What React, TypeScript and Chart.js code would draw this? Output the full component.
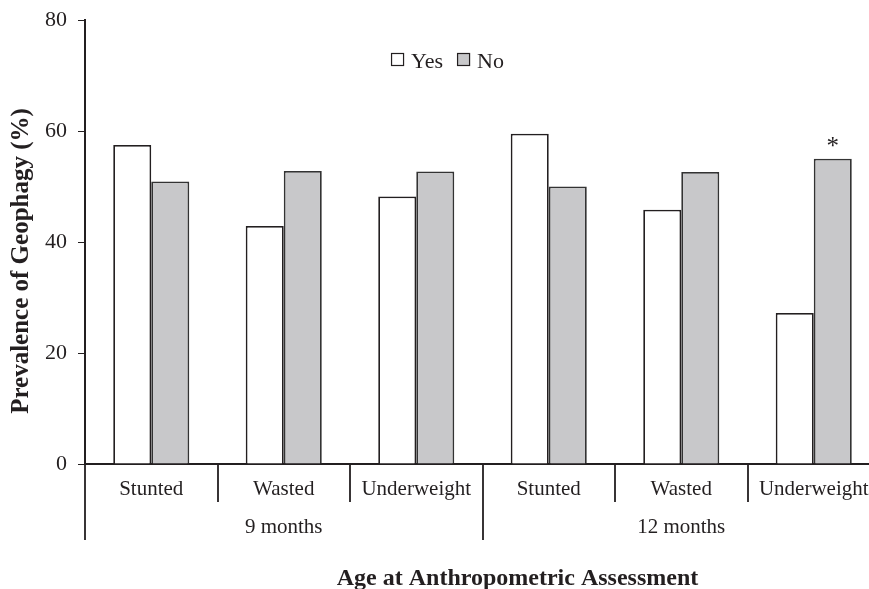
import React, { useEffect, useRef } from 'react';
import { Chart, registerables } from 'chart.js';

Chart.register(...registerables);

const categories = ['Stunted', 'Wasted', 'Underweight', 'Stunted', 'Wasted', 'Underweight'];
const groups = ['9 months', '12 months'];
const groupSize = 3;
const seriesLabels = ['Yes', 'No'];
const yesValues = [57.5, 42.9, 48.2, 59.5, 45.8, 27.2];
const noValues = [50.9, 52.8, 52.7, 50.0, 52.6, 55.0];
const significantNo = [false, false, false, false, false, true];
const yMin = 0;
const yMax = 80;
const yStep = 20;
const yTitle = 'Prevalence of Geophagy (%)';
const xTitle = 'Age at Anthropometric Assessment';

const FONT = '"Liberation Serif", "Times New Roman", serif';
const INK = '#231f20';
const FILL_YES = '#ffffff';
const FILL_NO = '#c8c8ca';

const decorPlugin = {
  id: 'decor',
  afterDraw(chart: any) {
    const { ctx, chartArea: ca } = chart;
    const x = chart.scales.x;
    const n = categories.length;
    const step = x.getPixelForValue(1) - x.getPixelForValue(0);
    const first = x.getPixelForValue(0);
    const bound = (k: number) => first + (k - 0.5) * step;

    ctx.save();
    // separators
    ctx.strokeStyle = INK;
    ctx.lineWidth = 1.8;
    for (let k = 0; k <= n; k++) {
      const px = Math.round(bound(k));
      const len = k % groupSize === 0 ? 76 : 38;
      ctx.beginPath();
      ctx.moveTo(px, ca.bottom);
      ctx.lineTo(px, ca.bottom + len);
      ctx.stroke();
    }
    // group labels
    ctx.fillStyle = INK;
    ctx.font = `21px ${FONT}`;
    ctx.textAlign = 'center';
    ctx.textBaseline = 'alphabetic';
    groups.forEach((g, gi) => {
      const cx = (bound(gi * groupSize) + bound((gi + 1) * groupSize)) / 2;
      ctx.fillText(g, cx, ca.bottom + 69);
    });

    const center = (ca.left + ca.right) / 2;
    // x title
    ctx.font = `bold 24px ${FONT}`;
    ctx.fillText(xTitle, center + 35, ca.bottom + 121);

    // y title
    ctx.save();
    ctx.translate(28, (ca.top + ca.bottom) / 2 + 19);
    ctx.rotate(-Math.PI / 2);
    ctx.textAlign = 'center';
    ctx.textBaseline = 'alphabetic';
    ctx.font = `bold 25px ${FONT}`;
    ctx.fillText(yTitle, 0, 0);
    ctx.restore();

    // legend
    ctx.font = `22px ${FONT}`;
    ctx.textAlign = 'left';
    const box = 13;
    const gapText = 7;
    const gapItem = 14;
    const widths = seriesLabels.map((l) => ctx.measureText(l).width);
    const total = widths.reduce((s, w) => s + box + gapText + w, 0) + gapItem * (seriesLabels.length - 1);
    let lx = center - 35 - total / 2;
    const boxTop = ca.top + 33;
    seriesLabels.forEach((l, i) => {
      const ds = chart.data.datasets[i];
      ctx.fillStyle = ds.backgroundColor;
      ctx.fillRect(lx, boxTop, box, box);
      ctx.strokeStyle = INK;
      ctx.lineWidth = 1.2;
      ctx.strokeRect(lx + 0.5, boxTop + 0.5, box - 1, box - 1);
      ctx.fillStyle = INK;
      ctx.fillText(l, lx + box + gapText, boxTop + 15);
      lx += box + gapText + widths[i] + gapItem;
    });

    // significance stars
    const meta = chart.getDatasetMeta(1);
    ctx.font = `25px ${FONT}`;
    ctx.textAlign = 'center';
    ctx.textBaseline = 'alphabetic';
    significantNo.forEach((s, i) => {
      if (!s) return;
      const el = meta.data[i];
      ctx.fillText('*', el.x, el.y - 5);
    });
    ctx.restore();
  },
};

export default function App() {
  const canvasRef = useRef<HTMLCanvasElement | null>(null);

  useEffect(() => {
    if (!canvasRef.current) return;
    const chart = new Chart(canvasRef.current, {
      type: 'bar',
      data: {
        labels: categories,
        datasets: [
          {
            label: seriesLabels[0],
            data: yesValues,
            backgroundColor: FILL_YES,
            borderColor: INK,
            borderWidth: 1.8,
            categoryPercentage: 0.574,
            barPercentage: 1,
          },
          {
            label: seriesLabels[1],
            data: noValues,
            backgroundColor: FILL_NO,
            borderColor: '#333333',
            borderWidth: 1.8,
            categoryPercentage: 0.574,
            barPercentage: 1,
          },
        ],
      },
      options: {
        animation: false,
        responsive: true,
        maintainAspectRatio: false,
        layout: { padding: { top: 20, right: 20, bottom: 0, left: 0 } },
        plugins: {
          legend: { display: false },
          tooltip: { enabled: false },
          title: { display: false },
        },
        scales: {
          x: {
            type: 'category',
            grid: { display: false, drawTicks: false, drawOnChartArea: false },
            border: { display: true, color: INK, width: 2 },
            ticks: {
              color: INK,
              font: { family: FONT, size: 21 },
              padding: 13,
              maxRotation: 0,
              autoSkip: false,
            },
            afterFit: (scale: any) => {
              scale.height = 125;
            },
          },
          y: {
            min: yMin,
            max: yMax,
            grid: {
              display: true,
              drawOnChartArea: false,
              drawTicks: true,
              tickLength: 7,
              tickColor: INK,
              tickWidth: 1,
            },
            border: { display: true, color: INK, width: 2 },
            ticks: {
              stepSize: yStep,
              color: INK,
              font: { family: FONT, size: 22 },
              padding: 11,
            },
            afterFit: (scale: any) => {
              scale.width = 85;
              scale.paddingTop = 0;
              scale.paddingBottom = 0;
            },
          },
        },
      },
      plugins: [decorPlugin],
    });
    return () => chart.destroy();
  }, []);

  return (
    <div
      style={{
        position: 'fixed',
        left: 0,
        top: 0,
        width: 869,
        height: 589,
        overflow: 'hidden',
        background: '#ffffff',
      }}
    >
      <div style={{ position: 'relative', width: 900, height: 589 }}>
        <canvas ref={canvasRef} />
      </div>
    </div>
  );
}
